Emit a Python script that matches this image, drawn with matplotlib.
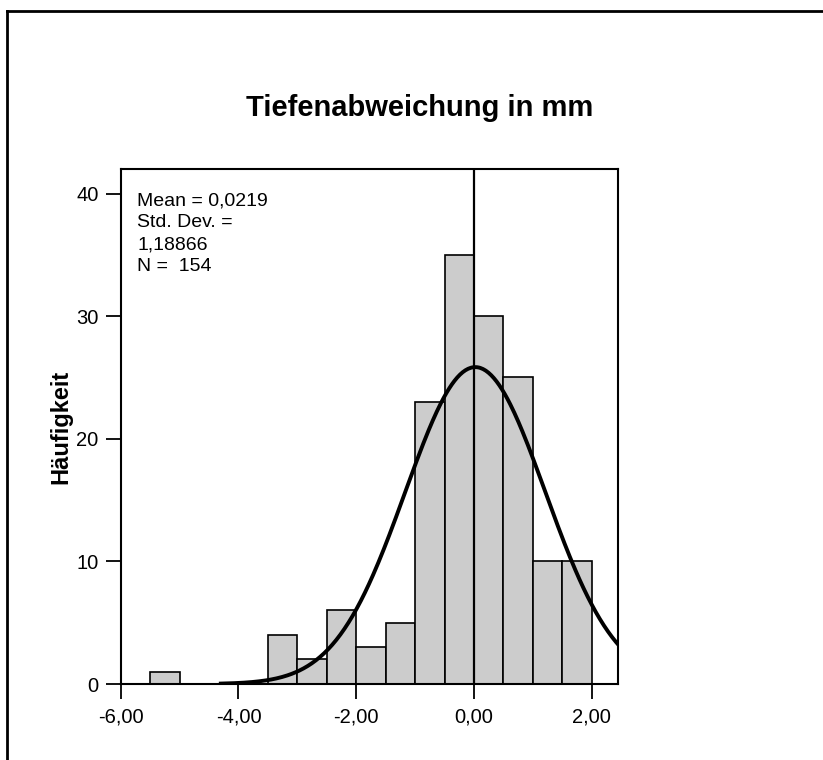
import numpy as np
import matplotlib.pyplot as plt
from matplotlib.lines import Line2D

plt.rcParams['font.family'] = ['Liberation Sans', 'DejaVu Sans']

# Histogramm-Klassen (Breite 0,5) und Häufigkeiten
bin_left = [-5.5, -3.5, -3.0, -2.5, -2.0, -1.5, -1.0, -0.5, 0.0, 0.5, 1.0, 1.5]
counts = [1, 4, 2, 6, 3, 5, 23, 35, 30, 25, 10, 10]
bin_width = 0.5

# Kennwerte
mean = 0.0219
std = 1.18866
n = 154

xticks = [-6, -4, -2, 0, 2]
xticklabels = ['-6,00', '-4,00', '-2,00', '0,00', '2,00']
yticks = [0, 10, 20, 30, 40]

fig = plt.figure(figsize=(8.23, 7.6), dpi=100)
ax = fig.add_axes([0.1467, 0.1, 0.6038, 0.6776])

ax.bar(bin_left, counts, width=bin_width, align='edge', color='#cccccc',
       edgecolor='black', linewidth=1.2, zorder=2)

# Normalverteilungskurve
xs = np.linspace(-4.3, 2.6, 300)
ys = n * bin_width / (std * np.sqrt(2 * np.pi)) * np.exp(-0.5 * ((xs - mean) / std) ** 2)
ax.plot(xs, ys, color='black', linewidth=2.8, zorder=4)

ax.axvline(0, color='black', linewidth=1.6, zorder=3)

ax.set_xlim(-6, 2.44)
ax.set_ylim(0, 42)
ax.set_xticks(xticks)
ax.set_xticklabels(xticklabels)
ax.set_yticks(yticks)
ax.tick_params(direction='out', length=11, width=1.3, labelsize=14.5, pad=5, colors='black')
ax.tick_params(axis='x', pad=6)
for s in ax.spines.values():
    s.set_linewidth(1.5)

ax.set_ylabel('Häufigkeit', fontsize=17, fontweight='bold', labelpad=3)

ax.text(0.033, 0.955, 'Mean = 0,0219\nStd. Dev. =\n1,18866\nN =  154',
        transform=ax.transAxes, ha='left', va='top', fontsize=14, linespacing=1.38)

fig.text(0.51, 0.858, 'Tiefenabweichung in mm', ha='center', va='center',
         fontsize=21, fontweight='bold')

# äußerer Rahmen (oben und links)
fig.add_artist(Line2D([7 / 823, 1.0], [1 - 11 / 760, 1 - 11 / 760], color='black', linewidth=2))
fig.add_artist(Line2D([7 / 823, 7 / 823], [0.0, 1 - 11 / 760], color='black', linewidth=2))

fig.savefig('out.png', dpi=100)
